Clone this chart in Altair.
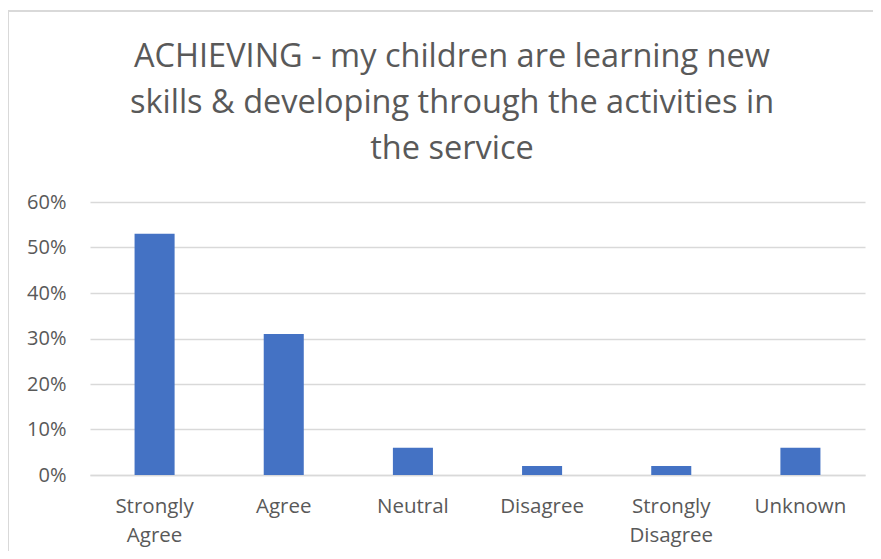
import altair as alt
import pandas as pd

categories = ["Strongly Agree", "Agree", "Neutral", "Disagree", "Strongly Disagree", "Unknown"]
values = [0.53, 0.31, 0.06, 0.02, 0.02, 0.06]
title_lines = ["ACHIEVING - my children are learning new",
               "skills & developing through the activities in",
               "the service"]

df = pd.DataFrame({"category": categories, "value": values})

W, H = 775, 273
FONT = "Open Sans"
GREY = "#595959"

bars = alt.Chart(df).mark_bar(color="#4472C4").encode(
    x=alt.X("category:N", sort=categories, title=None,
            scale=alt.Scale(paddingInner=0.69, paddingOuter=0.345),
            axis=alt.Axis(labelAngle=0, labelExpr="split(datum.label, ' ')",
                          labelFont=FONT, labelFontSize=20.5, labelColor=GREY,
                          labelLineHeight=29, labelPadding=21, ticks=False,
                          domainColor="#d9d9d9", domainWidth=1.5, labelBaseline="top")),
    y=alt.Y("value:Q", title=None,
            scale=alt.Scale(domain=[0, 0.6], nice=False),
            axis=alt.Axis(format=".0%", values=[0, 0.1, 0.2, 0.3, 0.4, 0.5, 0.6],
                          labelFont=FONT, labelFontSize=20, labelColor=GREY,
                          labelPadding=24, ticks=False, domain=False,
                          gridColor="#d9d9d9", gridWidth=1.5)),
)

frame = alt.Chart(df).mark_rule(color="#d9d9d9", strokeWidth=1.5).encode(
    x=alt.value(-82), x2=alt.value(W + 10), y=alt.value(-191), y2=alt.value(-191)
)
frame_left = alt.Chart(df).mark_rule(color="#d9d9d9", strokeWidth=1.5).encode(
    x=alt.value(-82), x2=alt.value(-82), y=alt.value(-191), y2=alt.value(H + 90)
)

title = alt.Chart(df).transform_filter("datum.category == 'Agree'").mark_text(
    font=FONT, fontSize=32.5, color=GREY, lineHeight=46, align="center", baseline="middle"
).encode(x=alt.value(362), y=alt.value(-145), text=alt.value(title_lines))

chart = alt.layer(frame, frame_left, bars, title).properties(
    width=W, height=H,
    autosize=alt.AutoSizeParams(type="none"),
    padding={"left": 82, "top": 194, "right": 8, "bottom": 76},
).configure_view(stroke=None)

chart.save("out.html", embed_options={"renderer": "svg", "actions": False})
